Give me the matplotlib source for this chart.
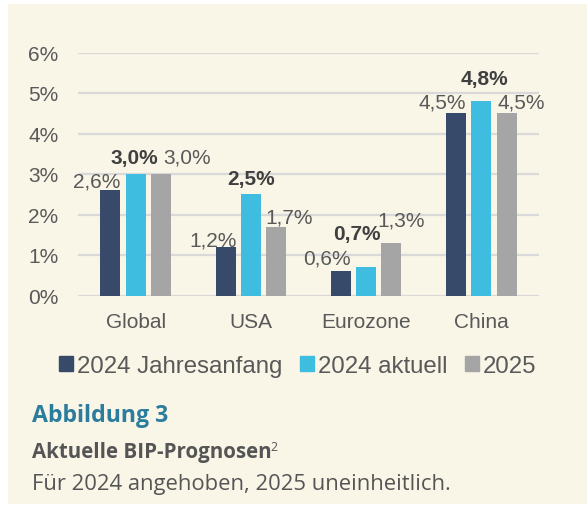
import matplotlib
matplotlib.use("Agg")
import matplotlib.pyplot as plt
from matplotlib.patches import Rectangle
import numpy as np

categories = ["Global", "USA", "Eurozone", "China"]
series_names = ["2024 Jahresanfang", "2024 aktuell", "2025"]
jahresanfang = [2.6, 1.2, 0.6, 4.5]
aktuell = [3.0, 2.5, 0.7, 4.8]
y2025 = [3.0, 1.7, 1.3, 4.5]
yticks = [0, 1, 2, 3, 4, 5, 6]

colors = ["#374a69", "#3fbde0", "#a5a5a5"]
bold_series = [False, True, False]
# label offsets in pixels (dx, dy of baseline above bar top)
label_offsets = [
    [(-13.5, 4), (-12.5, 1.5), (-14, 8), (-14, 5.5)],
    [(-1, 10.5), (0, 10.5), (-9.5, 28), (3, 17.5)],
    [(26, 11), (13, 4.5), (10, 17.5), (15, 5.5)],
]

W, H, DPI = 587, 506, 100
fig = plt.figure(figsize=(W / DPI, H / DPI), dpi=DPI, facecolor="white")
fig.patches.append(Rectangle((8 / W, 1 - 505 / H), 1 - 8 / W, (505 - 5) / H,
                             transform=fig.transFigure, facecolor="#f9f5e7",
                             edgecolor="none", zorder=-10))

left, right, top, bottom = 78, 539, 53.5, 296.5
ax = fig.add_axes([left / W, 1 - bottom / H, (right - left) / W, (bottom - top) / H])
ax.set_facecolor("none")

textcol = "#595959"
font = "Liberation Sans"
x = np.arange(len(categories))
bw = 0.1735
step = 0.22
all_series = [jahresanfang, aktuell, y2025]
for i, (vals, col) in enumerate(zip(all_series, colors)):
    pos = x + (i - 1) * step
    bars = ax.bar(pos, vals, width=bw, color=col, zorder=3, label=series_names[i])
    for j, (p, v) in enumerate(zip(pos, vals)):
        dx, dy = label_offsets[i][j]
        lbl = f"{v:.1f}%".replace(".", ",")
        ax.annotate(lbl, (p, v), xytext=(dx, dy), textcoords="offset pixels",
                    ha="center", va="baseline", fontsize=15, family=font,
                    color="#404040" if bold_series[i] else textcol,
                    fontweight="bold" if bold_series[i] else "normal", zorder=4)

ax.set_xlim(-0.5, len(categories) - 0.5)
ax.set_ylim(0, 6)
ax.set_yticks(yticks)
ax.set_yticklabels([f"{t}%" for t in yticks], fontsize=15, family=font, color=textcol)
ax.set_xticks(x)
ax.set_xticklabels(categories, fontsize=15, family=font, color=textcol)
ax.tick_params(axis="y", length=0, pad=14)
ax.tick_params(axis="x", length=0, pad=12)
ax.grid(axis="y", color="#d9d9d9", linewidth=1.6, zorder=1)
ax.set_axisbelow(True)
for s in ax.spines.values():
    s.set_visible(False)

handles = [Rectangle((0, 0), 1, 1, color=c) for c in colors]
leg = fig.legend(handles, series_names, loc="center", ncol=3,
                 bbox_to_anchor=(298 / W, 1 - 367 / H), frameon=False,
                 prop={"family": font, "size": 17.3},
                 handlelength=0.58, handleheight=0.58, handletextpad=0.15,
                 columnspacing=0.75, borderpad=0, borderaxespad=0)
for t in leg.get_texts():
    t.set_color(textcol)

capfont = "Open Sans"
fig.text(32 / W, 1 - 422 / H, "Abbildung 3", family=capfont, fontweight="bold",
         fontsize=16.7, color="#2b7c9d", va="baseline", ha="left")
t2 = fig.text(32 / W, 1 - 458 / H, "Aktuelle BIP-Prognosen", family=capfont,
              fontweight="bold", fontsize=14.8, color="#555555", va="baseline", ha="left")
fig.canvas.draw()
bb = t2.get_window_extent(fig.canvas.get_renderer())
fig.text((bb.x1 - 1.5) / W, 1 - 451.5 / H, "2", family=capfont, fontsize=9,
         color="#555555", va="baseline", ha="left")
fig.text(32 / W, 1 - 490 / H, "Für 2024 angehoben, 2025 uneinheitlich.", family=capfont,
         fontsize=15.8, color="#555555", va="baseline", ha="left")

fig.savefig("out.png", dpi=DPI, facecolor="white")
